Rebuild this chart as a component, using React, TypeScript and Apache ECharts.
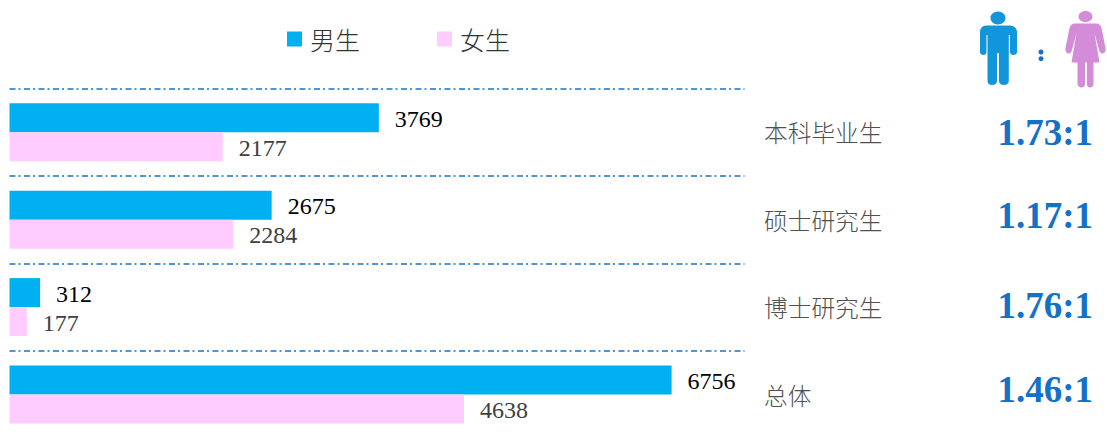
import React, { useEffect, useRef } from "react";
import * as echarts from "echarts";

const categories = ["本科毕业生", "硕士研究生", "博士研究生", "总体"];
const maleValues = [3769, 2675, 312, 6756];
const femaleValues = [2177, 2284, 177, 4638];
const ratios = ["1.73:1", "1.17:1", "1.76:1", "1.46:1"];
const ratioLiftPadding = [0, 8, 4, 10];

const manPath =
  "M998 11.5C1002.5 11.5 1005.5 14.5 1005.5 18C1005.5 21.5 1002.5 24.5 998 24.5C993.5 24.5 990.5 21.5 990.5 18C990.5 14.5 993.5 11.5 998 11.5Z" +
  "M986 25.5L1010 25.5C1014 25.5 1017 28.5 1017 32L1017 52C1017 54 1015.5 55 1013.5 55C1011.5 55 1010 54 1010 52L1010 35L1008.8 35L1008.8 81C1008.8 83.5 1006.5 85 1004 85C1001 85 999 83.5 999 81L999 53L997 53L997 81C997 83.5 995 85 992 85C989.5 85 987.5 83.5 987.5 81L987.5 35L986.5 35L986.5 52C986.5 54 985 55 983.5 55C981.5 55 980 54 980 52L980 32C980 28.5 982.5 25.5 986 25.5Z";
const womanPath =
  "M1085.5 11C1089.5 11 1092.5 13.5 1092.5 16.5C1092.5 19.5 1089.5 22 1085.5 22C1081.5 22 1078.5 19.5 1078.5 16.5C1078.5 13.5 1081.5 11 1085.5 11Z" +
  "M1075 23.5L1096 23.5C1099 23.5 1100.5 25 1101.5 28L1105.5 48C1106 51 1104.5 53.5 1102.5 53.5C1100.5 53.5 1099.5 52 1099 50L1094.5 33L1099.5 62.5L1093.5 62.5L1093.5 84C1093.5 86 1092 87.5 1090 87.5C1088 87.5 1087 86 1087 84L1087 62.5L1085 62.5L1085 84C1085 86 1083.5 87.5 1081.5 87.5C1079.5 87.5 1077.5 86 1077.5 84L1077.5 62.5L1071.5 62.5L1076.5 33L1072 50C1071.5 52 1070.5 53.5 1068.5 53.5C1066.5 53.5 1065 51 1065.5 48L1069.5 28C1070.5 25 1072 23.5 1075 23.5Z";

echarts.graphic.registerShape("manIcon", echarts.graphic.extendPath(manPath, {}));
echarts.graphic.registerShape("womanIcon", echarts.graphic.extendPath(womanPath, {}));

const serif = "'Liberation Serif'";
const cjk = "'Noto Sans CJK SC'";

const ratioRich: Record<string, object> = {};
ratios.forEach((_, i) => {
  ratioRich["r" + i] = {
    fontFamily: serif,
    fontSize: 37,
    fontWeight: "bold",
    color: "#1570c8",
    lineHeight: 42,
    padding: [0, 0, ratioLiftPadding[i], 0],
  };
});

export default function App() {
  const ref = useRef<HTMLDivElement>(null);
  useEffect(() => {
    const chart = echarts.init(ref.current!, undefined, { renderer: "svg" });
    chart.setOption({
      animation: false,
      backgroundColor: "#ffffff",
      grid: { left: 9.5, top: 88.6, width: 735, height: 349.6, containLabel: false },
      legend: {
        left: 287,
        top: 26.5,
        padding: 0,
        itemWidth: 15,
        itemHeight: 15,
        itemGap: 77,
        icon: "rect",
        textStyle: { fontFamily: cjk, fontSize: 25, fontWeight: 300, color: "#333333", padding: [0, 0, 0, 3] },
        data: ["男生", "女生"],
      },
      xAxis: { type: "value", min: 0, max: 7500, show: false },
      yAxis: [
        {
          type: "category",
          data: categories,
          inverse: true,
          position: "right",
          axisLine: { show: false },
          axisTick: { show: false },
          axisLabel: {
            margin: 19.5,
            fontFamily: cjk,
            fontSize: 23.7,
            fontWeight: 300,
            color: "#505050",
            align: "left",
            padding: [0, 0, 5, 0],
          },
          splitLine: {
            show: true,
            lineStyle: { color: "#1a73c9", width: 1.5, type: [6, 3, 2, 3.5] },
          },
        },
        {
          type: "category",
          data: ratios,
          inverse: true,
          position: "right",
          offset: 253,
          axisLine: { show: false },
          axisTick: { show: false },
          splitLine: { show: false },
          axisLabel: {
            margin: 0,
            align: "left",
            formatter: (value: string, index: number) => `{r${index}|${value}}`,
            rich: ratioRich,
          },
        },
      ],
      series: [
        {
          name: "男生",
          type: "bar",
          data: maleValues,
          barWidth: 29,
          barGap: 0,
          itemStyle: { color: "#00b0f0" },
          label: {
            show: true,
            position: "right",
            distance: 16,
            offset: [0, 1],
            fontFamily: serif,
            fontSize: 24,
            color: "#000000",
          },
        },
        {
          name: "女生",
          type: "bar",
          data: femaleValues,
          barWidth: 29,
          barGap: 0,
          itemStyle: { color: "#ffccff" },
          label: {
            show: true,
            position: "right",
            distance: 16,
            offset: [0, 1],
            fontFamily: serif,
            fontSize: 24,
            color: "#404040",
          },
        },
      ],
      graphic: [
        { type: "manIcon", x: 0, y: 0, style: { fill: "#1296db" } },
        { type: "womanIcon", x: 0, y: 0, style: { fill: "#d48bd8" } },
        { type: "circle", shape: { cx: 1041, cy: 52, r: 2.5 }, style: { fill: "#1a6fc4" } },
        { type: "circle", shape: { cx: 1041, cy: 58.7, r: 2.5 }, style: { fill: "#1a6fc4" } },
      ],
    });
    return () => chart.dispose();
  }, []);
  return (
    <div style={{ position: "absolute", left: 0, top: 0, width: 1107, height: 432, overflow: "hidden" }}>
      <div ref={ref} style={{ width: 1107, height: 450 }} />
    </div>
  );
}
